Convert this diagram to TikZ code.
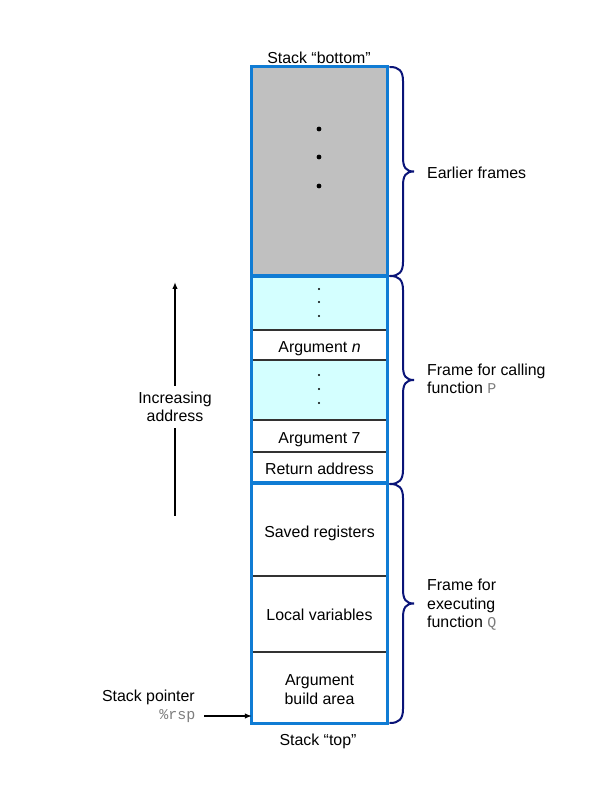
\documentclass[tikz,border=0pt]{standalone}
\usepackage{fontspec}
\setmainfont{Liberation Sans}
\setmonofont{Liberation Mono}
\usetikzlibrary{arrows.meta}
\definecolor{frameblue}{RGB}{16,124,212}
\definecolor{bracenavy}{RGB}{10,20,120}
\definecolor{cellgray}{RGB}{192,192,192}
\definecolor{cellcyan}{RGB}{212,255,255}
\definecolor{linegray}{RGB}{50,50,50}
\definecolor{codegray}{RGB}{125,125,125}
\newcommand{\codetxt}[1]{{\color{codegray}\fontsize{15}{18.5}\selectfont\ttfamily #1}}
\newcommand{\stackbrace}[2]{%
  \pgfmathsetmacro{\bracemid}{(#1+#2)/2}%
  \draw[bracestyle] (390,#1) .. controls (399,#1) and (403,#1-4) .. (403,#1-14)
    -- (403,\bracemid+14) .. controls (403,\bracemid+4) and (406,\bracemid) .. (414,\bracemid)
    .. controls (406,\bracemid) and (403,\bracemid-4) .. (403,\bracemid-14)
    -- (403,#2+14) .. controls (403,#2+4) and (399,#2) .. (390,#2);%
}
\begin{document}
\begin{tikzpicture}[x=1pt,y=1pt,
  every node/.style={font=\fontsize{15.9}{18.5}\selectfont},
  cell/.style={draw=linegray, line width=1.2pt, minimum width=134pt, inner sep=0pt},
  celltext/.style={align=center, inner sep=0pt},
  frame/.style={draw=frameblue, line width=3pt},
  bracestyle/.style={draw=bracenavy, line width=2pt, line cap=round},
  arrowline/.style={line width=1.8pt},
  lbl/.style={anchor=west, inner sep=0pt, align=left},
  code/.style={font=\fontsize{15}{18.5}\selectfont\ttfamily, text=codegray}]
\useasboundingbox (0,0) rectangle (612,792);

% cells
\node[cell, fill=cellgray, minimum height=209pt] (earlier) at (319.5,620.5) {};
\node[cell, fill=cellcyan, minimum height=54pt] (dotsA) at (319.5,489) {};
\node[cell, fill=white, minimum height=30pt] (argn) at (319.5,447) {};
\node[cell, fill=cellcyan, minimum height=60pt] (dotsB) at (319.5,402) {};
\node[cell, fill=white, minimum height=32pt] (arg7) at (319.5,356) {};
\node[cell, fill=white, minimum height=31pt] (ret) at (319.5,324.5) {};
\node[cell, fill=white, minimum height=93pt] (saved) at (319.5,262.5) {};
\node[cell, fill=white, minimum height=76pt] (local) at (319.5,178) {};
\node[cell, fill=white, minimum height=71pt] (argb) at (319.5,104.5) {};

% cell texts
\node[celltext] (argntxt) at ([yshift=-4pt]argn.center) {Argument \textit{n}};
\node[celltext] (arg7txt) at ([yshift=-3.5pt]arg7.center) {Argument 7};
\node[celltext] (rettxt) at ([yshift=-1pt]ret.center) {Return address};
\node[celltext] (savedtxt) at ([yshift=-4pt]saved.center) {Saved registers};
\node[celltext] (localtxt) at ([yshift=-1pt]local.center) {Local variables};
\node[celltext] (argbtxt) at ([yshift=-2pt]argb.center) {Argument\\build area};

% frames
\draw[frame] (earlier.north west) rectangle (earlier.south east);
\draw[frame] (dotsA.north west) rectangle (ret.south east);
\draw[frame] (saved.north west) rectangle (argb.south east);

% dots
\foreach \yy in {129,157,186} \fill (319,792-\yy) circle (2.4);
\foreach \yy in {289,302,316,375,389,403} \fill (319,792-\yy) circle (1.2);

% stack labels
\node (bottomlbl) at (319,734) {Stack “bottom”};
\node (toplbl) at (318,51) {Stack “top”};

% braces
\stackbrace{725}{516}
\stackbrace{516}{308}
\stackbrace{308}{69}
\node[lbl] (earlierlbl) at (427,619) {Earlier frames};
\node[lbl] (plbl) at (427,413) {Frame for calling\\function \codetxt{P}};
\node[lbl] (qlbl) at (427,187) {Frame for\\executing\\function \codetxt{Q}};

% increasing address
\node[align=center, inner ysep=6pt] (inc) at (175,385) {Increasing\\address};
\coordinate (incbot) at (175,276);
\coordinate (inctop) at (175,510);
\draw[arrowline] (incbot) -- (inc.south);
\draw[arrowline, -{Latex[length=7pt,width=5.5pt]}] (inc.north) -- (inctop);

% stack pointer
\node[anchor=east, inner sep=0pt] (splbl) at (195,95) {Stack pointer};
\node[code, anchor=east, inner ysep=0pt, inner xsep=8.5pt] (rsp) at (204,76) {\%rsp};
\draw[arrowline, -{Latex[length=7pt,width=5.5pt]}] (rsp.east) -- (rsp.east -| argb.west);
\end{tikzpicture}
\end{document}
